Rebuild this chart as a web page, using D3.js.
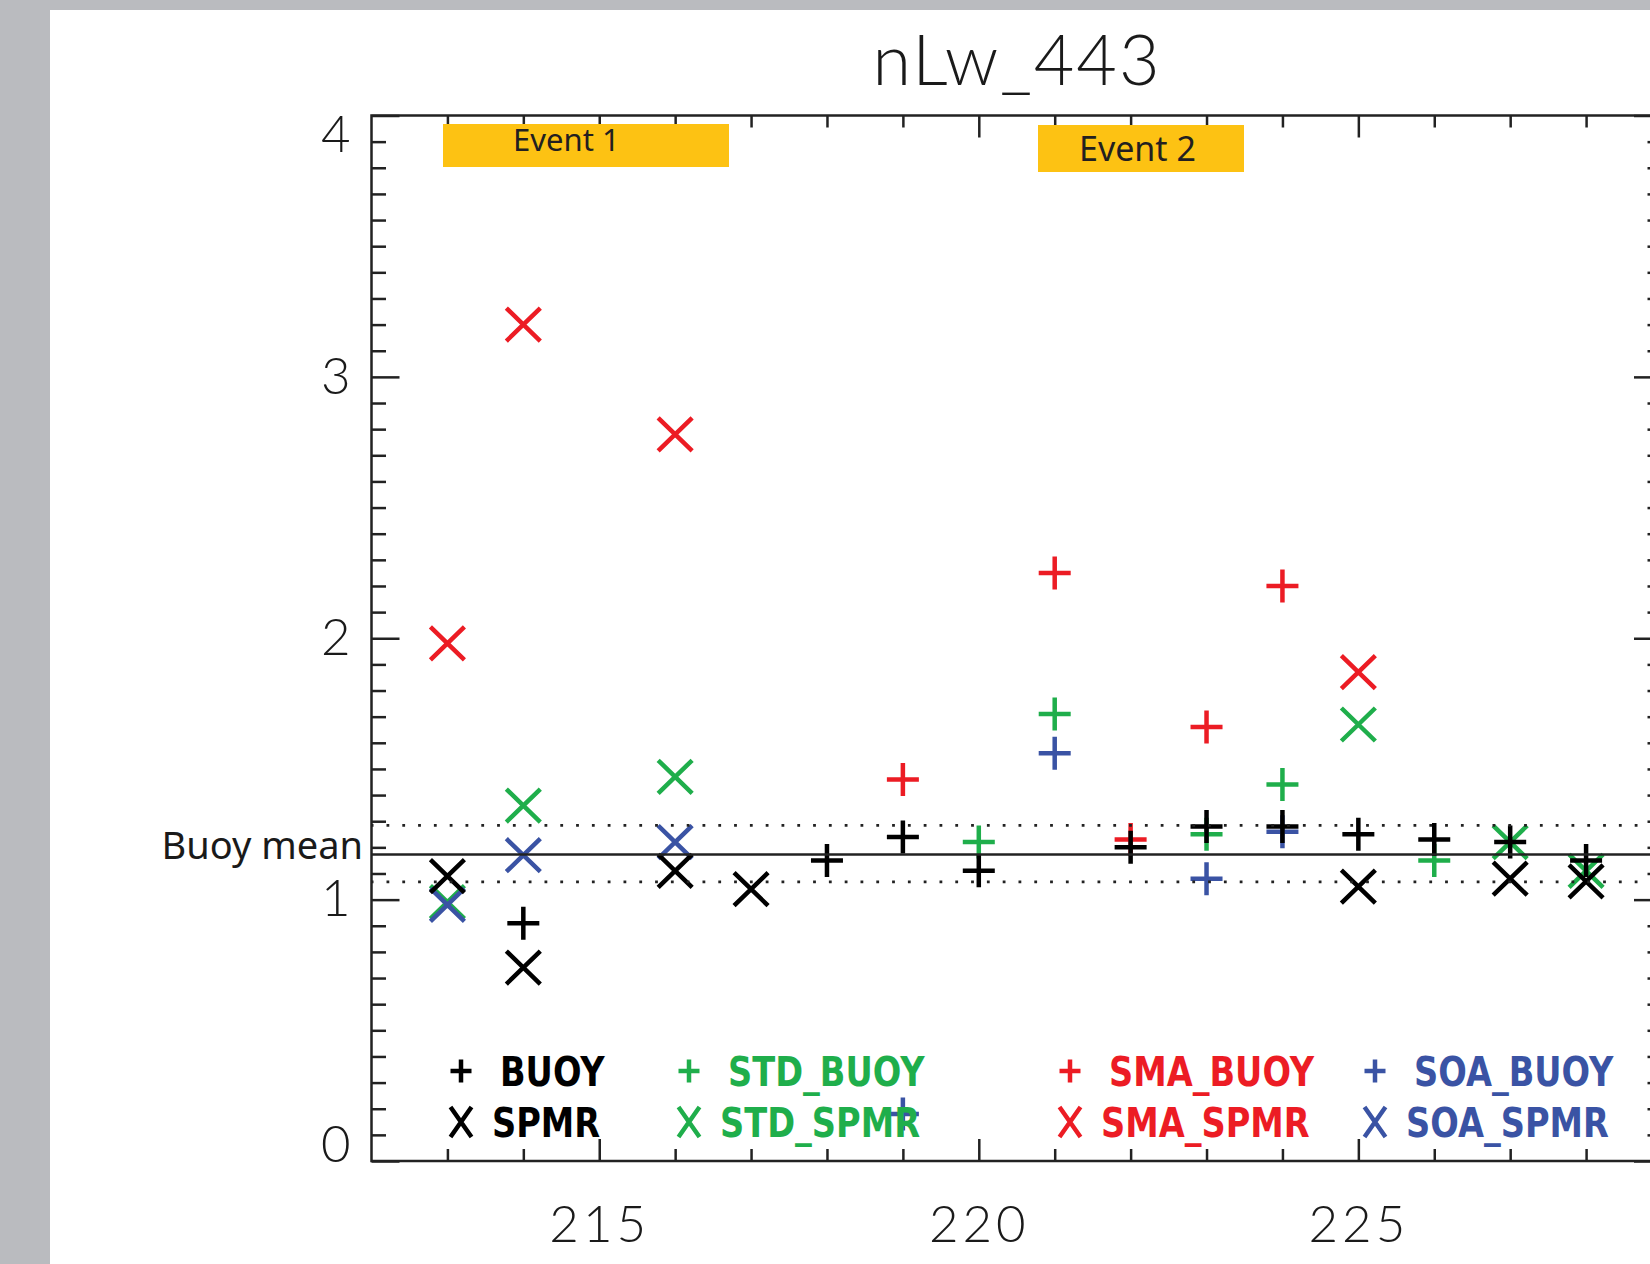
<!DOCTYPE html>
<html>
<head>
<meta charset="utf-8">
<script src="https://cdn.jsdelivr.net/npm/d3@7"></script>
<style>
  html, body { margin: 0; padding: 0; background: #babbbf; }
  svg { display: block; }
</style>
</head>
<body>
<div id="chart"></div>
<script>

// day of year
const days = [213, 214, 215, 216, 217, 218, 219, 220, 221, 222, 223, 224, 225, 226, 227, 228];

// nLw_443 per source (null = no match-up that day)
const buoyVals    = [null, 0.91, null, null, null, 1.15, 1.24, 1.11, null, 1.20, 1.28, 1.28, 1.25, 1.23, 1.22, 1.15];
const spmrVals    = [1.09, 0.74, null, 1.11, 1.04, null, null, null, null, null, null, null, 1.05, null, 1.08, 1.07];
const stdBuoyVals = [null, null, null, null, null, null, null, 1.22, 1.71, null, 1.25, 1.44, null, 1.15, null, null];
const stdSpmrVals = [0.99, 1.36, null, 1.47, null, null, null, null, null, null, null, null, 1.67, null, 1.22, 1.11];
const smaBuoyVals = [null, null, null, null, null, null, 1.46, null, 2.25, 1.23, 1.66, 2.20, null, null, null, null];
const smaSpmrVals = [1.98, 3.20, null, 2.78, null, null, null, null, null, null, null, null, 1.87, null, null, null];
const soaBuoyVals = [null, null, null, null, null, null, 0.18, null, 1.56, null, 1.08, 1.26, null, null, null, null];
const soaSpmrVals = [0.98, 1.17, null, 1.22, null, null, null, null, null, null, null, null, null, null, null, null];

const buoyMean = 1.173;
const buoyBand = [1.068, 1.284];

const events = ["Event 1", "Event 2"];

const yMajor = [0, 1, 2, 3, 4];
const xMajor = [215, 220, 225];

const width = 1650, height = 1264;
const plot = {left: 371.5, right: 1662, top: 115.5, bottom: 1161};

const colors = {black: "#000000", green: "#1fae4b", red: "#ec1c24", blue: "#3a53a4"};

// drawing order roughly as in the original plot
const series = [
  {name: "STD_BUOY", sym: "plus",  color: colors.green, values: stdBuoyVals, col: 1, row: 0},
  {name: "STD_SPMR", sym: "cross", color: colors.green, values: stdSpmrVals, col: 1, row: 1},
  {name: "SMA_BUOY", sym: "plus",  color: colors.red,   values: smaBuoyVals, col: 2, row: 0},
  {name: "SMA_SPMR", sym: "cross", color: colors.red,   values: smaSpmrVals, col: 2, row: 1},
  {name: "SOA_BUOY", sym: "plus",  color: colors.blue,  values: soaBuoyVals, col: 3, row: 0},
  {name: "SOA_SPMR", sym: "cross", color: colors.blue,  values: soaSpmrVals, col: 3, row: 1},
  {name: "BUOY",     sym: "plus",  color: colors.black, values: buoyVals,    col: 0, row: 0},
  {name: "SPMR",     sym: "cross", color: colors.black, values: spmrVals,    col: 0, row: 1}
];

const points = [];
series.forEach(s => {
  s.values.forEach((v, i) => {
    if (v !== null) points.push({day: days[i], value: v, sym: s.sym, color: s.color});
  });
});

function symPath(sym, hw, hh) {
  if (sym === "plus") return `M${-hw},0H${hw}M0,${-hh}V${hh}`;
  return `M${-hw},${-hh}L${hw},${hh}M${-hw},${hh}L${hw},${-hh}`;
}

const x = d3.scaleLinear().domain([212, 229]).range([plot.left, plot.right]);
const y = d3.scaleLinear().domain([0, 4]).range([plot.bottom, plot.top]);

const svg = d3.select("#chart")
  .append("svg")
  .attr("width", width)
  .attr("height", height);

svg.append("rect")
  .attr("x", 50).attr("y", 10)
  .attr("width", width - 50).attr("height", height - 10)
  .attr("fill", "#ffffff");

const axisFont = "Lato, 'DejaVu Sans', sans-serif";

// title
svg.append("text")
  .attr("x", 1017).attr("y", 85)
  .attr("text-anchor", "middle")
  .style("font-family", axisFont)
  .style("font-weight", 300)
  .style("font-size", "70px")
  .style("letter-spacing", "2px")
  .attr("fill", "#1a1a1a")
  .text("nLw_443");

const yMinor = d3.range(1, 40).filter(i => i % 10 !== 0).map(i => i / 10);
const xMinor = d3.range(213, 229).filter(d => !xMajor.includes(d));

function styleAxis(g) {
  g.select(".domain").remove();
  g.selectAll(".tick line").attr("stroke", "#222").attr("stroke-width", 2.5);
  g.attr("font-size", null).attr("font-family", null);
  g.selectAll("text")
    .style("font-family", axisFont)
    .style("font-weight", 300)
    .style("font-size", "51px")
    .attr("fill", "#1a1a1a");
}

// left axis
svg.append("g")
  .attr("transform", `translate(${plot.left},0)`)
  .call(d3.axisLeft(y).tickValues(yMinor).tickSizeInner(-14.5).tickSizeOuter(0).tickFormat(""))
  .call(styleAxis);

svg.append("g")
  .attr("transform", `translate(${plot.left},0)`)
  .call(d3.axisLeft(y).tickValues(yMajor).tickSizeInner(-28).tickSizeOuter(0).tickPadding(21).tickFormat(d3.format("d")))
  .call(styleAxis)
  .call(g => g.selectAll("text").filter(d => d === 4).attr("y", 20))
  .call(g => g.selectAll("text").filter(d => d === 0).attr("y", -16));

// right axis
svg.append("g")
  .attr("transform", `translate(${plot.right},0)`)
  .call(d3.axisRight(y).tickValues(yMinor).tickSizeInner(-14.5).tickSizeOuter(0).tickFormat(""))
  .call(styleAxis);

svg.append("g")
  .attr("transform", `translate(${plot.right},0)`)
  .call(d3.axisRight(y).tickValues(yMajor).tickSizeInner(-28).tickSizeOuter(0).tickFormat(""))
  .call(styleAxis);

// bottom axis
svg.append("g")
  .attr("transform", `translate(0,${plot.bottom})`)
  .call(d3.axisBottom(x).tickValues(xMinor).tickSizeInner(-12).tickSizeOuter(0).tickFormat(""))
  .call(styleAxis);

svg.append("g")
  .attr("transform", `translate(0,${plot.bottom})`)
  .call(d3.axisBottom(x).tickValues(xMajor).tickSizeInner(-22).tickSizeOuter(0).tickPadding(45).tickFormat(d3.format("d")))
  .call(styleAxis)
  .call(g => g.selectAll("text").style("letter-spacing", "4px"));

// top axis
svg.append("g")
  .attr("transform", `translate(0,${plot.top})`)
  .call(d3.axisTop(x).tickValues(xMinor).tickSizeInner(-12).tickSizeOuter(0).tickFormat(""))
  .call(styleAxis);

svg.append("g")
  .attr("transform", `translate(0,${plot.top})`)
  .call(d3.axisTop(x).tickValues(xMajor).tickSizeInner(-22).tickSizeOuter(0).tickFormat(""))
  .call(styleAxis);

// frame
svg.append("rect")
  .attr("x", plot.left).attr("y", plot.top)
  .attr("width", plot.right - plot.left)
  .attr("height", plot.bottom - plot.top)
  .attr("fill", "none")
  .attr("stroke", "#222")
  .attr("stroke-width", 2.5);

// event boxes
const eventBoxes = [
  {x0: 443, x1: 729, y0: 124, y1: 167, tx: 513, ty: 151, size: 31},
  {x0: 1038, x1: 1244, y0: 125, y1: 172, tx: 1079, ty: 161, size: 34}
];

const ev = svg.selectAll("g.event")
  .data(events)
  .enter().append("g")
    .attr("class", "event");

ev.append("rect")
  .attr("x", (d, i) => eventBoxes[i].x0)
  .attr("y", (d, i) => eventBoxes[i].y0)
  .attr("width", (d, i) => eventBoxes[i].x1 - eventBoxes[i].x0)
  .attr("height", (d, i) => eventBoxes[i].y1 - eventBoxes[i].y0)
  .attr("fill", "#fdc213");

ev.append("text")
  .attr("x", (d, i) => eventBoxes[i].tx)
  .attr("y", (d, i) => eventBoxes[i].ty)
  .style("font-family", "'Comic Sans MS', 'Noto Sans', sans-serif")
  .style("font-size", (d, i) => eventBoxes[i].size + "px")
  .attr("fill", "#231f20")
  .text(d => d);

// markers
svg.append("g")
  .selectAll("path")
  .data(points)
  .enter().append("path")
    .attr("transform", d => `translate(${x(d.day)},${y(d.value)})`)
    .attr("d", d => d.sym === "plus" ? symPath("plus", 16, 16.5) : symPath("cross", 17, 16.5))
    .attr("fill", "none")
    .attr("stroke", d => d.color)
    .attr("stroke-width", 4.5);

// buoy mean and band
svg.append("line")
  .attr("x1", plot.left).attr("x2", plot.right)
  .attr("y1", y(buoyMean)).attr("y2", y(buoyMean))
  .attr("stroke", "#222")
  .attr("stroke-width", 2.5);

svg.selectAll("line.band")
  .data(buoyBand)
  .enter().append("line")
    .attr("class", "band")
    .attr("x1", plot.left).attr("x2", plot.right)
    .attr("y1", d => y(d)).attr("y2", d => y(d))
    .attr("stroke", "#222")
    .attr("stroke-width", 2.8)
    .attr("stroke-dasharray", "2.8 13")
    .attr("stroke-dashoffset", 0.8);

svg.append("text")
  .attr("x", 363).attr("y", 859)
  .attr("text-anchor", "end")
  .style("font-family", "'Noto Sans', sans-serif")
  .style("font-size", "38px")
  .attr("fill", "#1a1a1a")
  .text("Buoy mean");

// legend
const legendCols = [461, 689, 1070, 1375];
const legendRows = [1071, 1122];

const lg = svg.append("g")
  .selectAll("g")
  .data(series)
  .enter().append("g")
    .attr("transform", d => `translate(${legendCols[d.col]},${legendRows[d.row]})`);

lg.append("path")
  .attr("d", d => d.sym === "plus" ? symPath("plus", 10.5, 11.5) : symPath("cross", 10.5, 15))
  .attr("fill", "none")
  .attr("stroke", d => d.color)
  .attr("stroke-width", 4.5);

lg.append("text")
  .attr("transform", d => `translate(${d.row === 0 ? 39 : 31},15) scale(0.82,1)`)
  .style("font-family", "'DejaVu Sans', sans-serif")
  .style("font-weight", "bold")
  .style("font-size", "41px")
  .attr("fill", d => d.color)
  .text(d => d.name);

</script>
</body>
</html>
